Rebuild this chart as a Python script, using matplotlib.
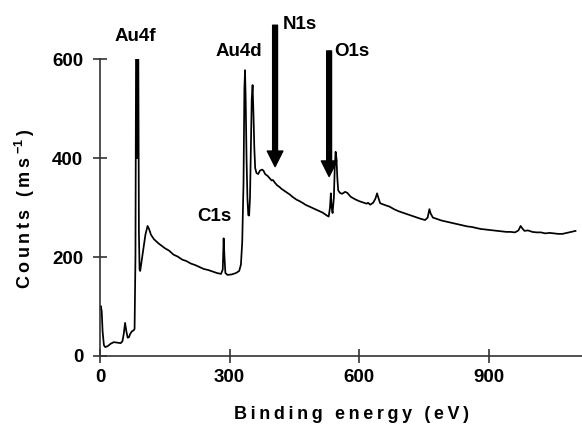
"""XPS survey spectrum of a gold surface with C1s, N1s and O1s marked."""

import numpy as np
import matplotlib

matplotlib.use("Agg")
import matplotlib.pyplot as plt
from matplotlib.patches import Rectangle

plt.rcParams["font.family"] = ["Liberation Sans", "DejaVu Sans"]
plt.rcParams["font.weight"] = "bold"
plt.rcParams["mathtext.fontset"] = "custom"
plt.rcParams["mathtext.rm"] = "Liberation Sans:bold"
plt.rcParams["mathtext.default"] = "rm"

# binding energy (eV) and counts
energy = [
    0, 2, 4, 6, 9, 12, 18, 25, 32, 40, 48, 52, 55, 58, 61, 64, 67, 70, 74, 78,
    80, 82, 83, 84, 85, 86, 87, 88, 89, 90, 91.5, 93, 96, 100, 105, 110, 113,
    118, 125, 135, 150, 160, 170, 180, 190, 200, 210, 220, 230, 240, 250, 260,
    270, 280, 284, 286, 288, 290, 295, 305, 315, 322, 326, 329, 332, 334, 335.5,
    337, 339, 341, 343, 345, 347, 349, 351, 353, 355, 357, 359, 362, 366, 370,
    375, 378, 382, 388, 394, 397, 400, 405, 410, 415, 420, 430, 440, 445, 455,
    460, 470, 475, 485, 490, 500, 505, 515, 525, 529, 532, 534, 536, 538, 541,
    543, 545, 547, 549, 551, 555, 560, 567, 572, 580, 590, 600, 610, 617, 620,
    625, 632, 637, 641, 644, 648, 660, 670, 680, 690, 700, 710, 720, 730, 740,
    752, 758, 762, 765, 770, 780, 790, 800, 810, 820, 830, 840, 850, 860, 870,
    880, 890, 900, 910, 920, 930, 940, 950, 960, 968, 973, 977, 982, 990, 1000,
    1010, 1020, 1030, 1040, 1050, 1060, 1070, 1075, 1085, 1095, 1100,
]
counts = [
    95, 101, 90, 50, 22, 18, 20, 25, 28, 27, 26, 30, 45, 67, 50, 37, 38, 45, 50, 52,
    55, 200, 500, 800, 650, 400, 650, 800, 500, 250, 175, 172, 190, 215, 245, 263,
    258, 245, 236, 228, 218, 213, 205, 201, 195, 192, 187, 184, 180, 176, 174, 171,
    168, 166, 175, 238, 200, 168, 164, 165, 168, 172, 185, 230, 350, 540, 578,
    520, 400, 320, 285, 284, 320, 420, 520, 548, 490, 420, 380, 370, 368, 375,
    377, 375, 368, 364, 358, 355, 356, 350, 345, 342, 338, 332, 326, 322, 316,
    314, 309, 306, 302, 300, 296, 294, 290, 284, 282, 300, 329, 300, 289, 320,
    380, 413, 400, 360, 335, 330, 328, 332, 330, 322, 317, 313, 310, 308, 310,
    306, 310, 318, 329, 320, 309, 305, 302, 297, 293, 290, 287, 284, 281, 278,
    275, 280, 297, 288, 280, 277, 274, 272, 270, 268, 266, 264, 262, 261, 259,
    257, 256, 255, 254, 253, 252, 251, 251, 250, 254, 263, 258, 253, 254, 251,
    250, 250, 248, 249, 248, 247, 247, 248, 250, 252, 253,
]

xticks = [0, 300, 600, 900]
yticks = [0, 200, 400, 600]

# peak labels: (text, x, y, ha)
peak_labels = [
    ("Au4f", 82, 646, "center"),
    ("Au4d", 321, 615, "center"),
    ("C1s", 265, 282, "center"),
    ("N1s", 423, 670, "left"),
    ("O1s", 542, 615, "left"),
]
# arrows: (x, y_start, y_tip)
arrows = [
    (405, 669, 383),
    (530, 617, 363),
]

AXIS = "#333333"
TS = "\u2009"  # thin space for the letter-spaced axis titles


def spaced(s):
    return TS.join(s)


def main():
    fig = plt.figure(figsize=(5.82, 4.26), dpi=100)
    ax = fig.add_axes([100 / 582, 70 / 426, 482 / 582, 356 / 426])

    line, = ax.plot(energy, counts, color="black", lw=1.25)
    # off-scale Au4f peaks are cut at the top of the scale
    clip = Rectangle((0, 0), 1200, 600, transform=ax.transData)
    line.set_clip_path(clip)

    ax.set_xlim(0, 1115)
    ax.set_ylim(0, 720)
    ax.set_xticks(xticks)
    ax.set_yticks(yticks)

    for s in ["top", "right"]:
        ax.spines[s].set_visible(False)
    ax.spines["left"].set_bounds(0, 600)
    for s in ["left", "bottom"]:
        ax.spines[s].set_color(AXIS)
        ax.spines[s].set_linewidth(1.2)

    ax.tick_params(direction="inout", length=10, width=1.2, color=AXIS,
                   labelsize=13.5)
    ax.tick_params(axis="x", pad=4)
    ax.tick_params(axis="y", pad=7)
    for lbl in ax.get_xticklabels() + ax.get_yticklabels():
        lbl.set_fontweight("bold")

    ax.set_xlabel(spaced("Binding energy (eV)"), fontsize=13, fontweight="bold")
    ax.set_ylabel(spaced("Counts (ms") + TS + "$^{-1}$" + TS + ")",
                  fontsize=13, fontweight="bold")
    ax.xaxis.set_label_coords(0.521, -0.14)
    ax.yaxis.set_label_coords(-0.13, 0.415)

    for text, x, y, ha in peak_labels:
        ax.text(x, y, text, ha=ha, va="center", fontsize=13.5,
                fontweight="bold", color="black")

    for x, y0, y1 in arrows:
        ax.annotate(
            "", xy=(x, y1), xytext=(x, y0),
            arrowprops=dict(
                arrowstyle="simple,tail_width=0.25,head_width=0.8,head_length=0.8",
                mutation_scale=14, fc="black", ec="black",
                shrinkA=0, shrinkB=0,
            ),
        )

    fig.savefig("out.png", dpi=100, facecolor="white")
    plt.close(fig)


if __name__ == "__main__":
    main()
